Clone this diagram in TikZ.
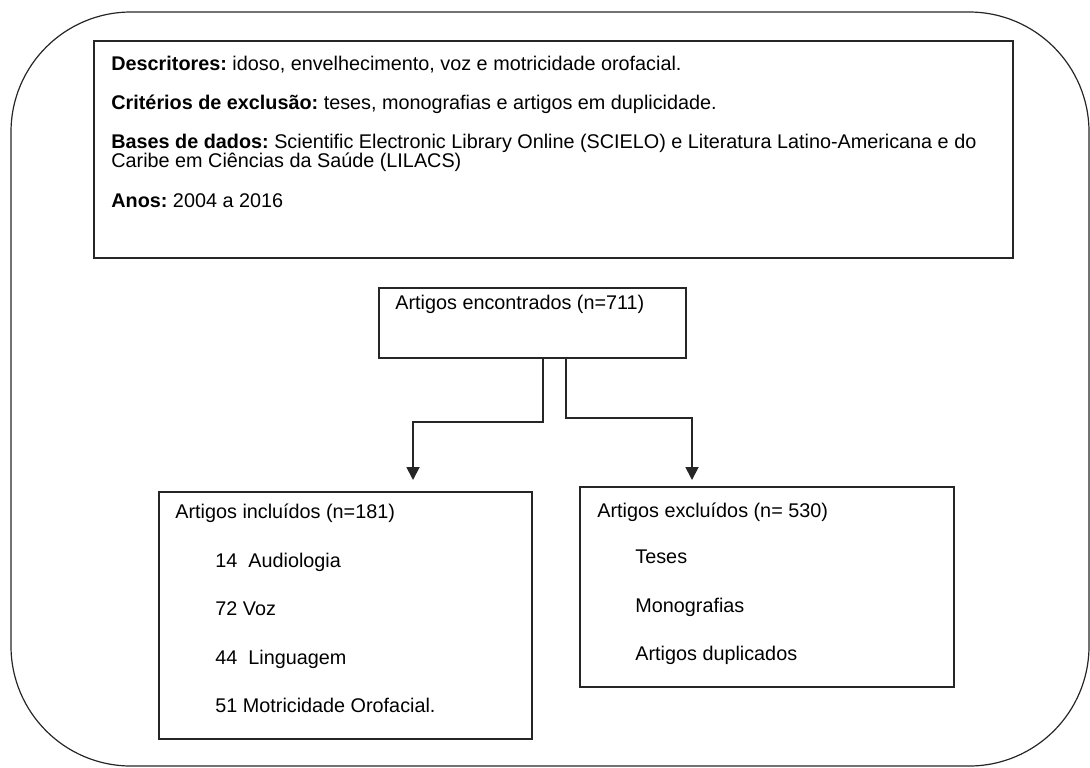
\documentclass[tikz,border=0pt]{standalone}
\usepackage{fontspec}
\setmainfont{Liberation Sans}
\usetikzlibrary{
  arrows.meta
}
\frenchspacing

\begin{document}
\begin{tikzpicture}[x=0.5pt,y=-0.5pt]
  \tikzset{
    frame/.style = {draw=black!85, line width=0.6pt},
    box/.style = {draw=black!85, line width=0.8pt, anchor=north west,
      inner sep=0pt},
    txt/.style = {anchor=base west, inner sep=0pt,
      font=\fontsize{9.9pt}{9.5pt}\selectfont},
    flow/.style = {draw=black!85, line width=0.9pt,
      -{Triangle[width=6.5pt,length=6.5pt]}},
  }
  \useasboundingbox (0,0) rectangle (1090,767);

  % outer frame with big round corners
  \draw[frame, rounded corners=60pt] (11,12) rectangle (1089,766);

  % search description
  \node[box, minimum width=459.5pt, minimum height=108.5pt] (desc) at (93,40) {};
  \node[txt] (descA) at (111,70)
  {\textbf{Descritores:} idoso, envelhecimento, voz e motricidade orofacial.};
  \node[txt] (descB) at (111,109)
  {\textbf{Critérios de exclusão:} teses, monografias e artigos em duplicidade.};
  \node[txt] (descC) at (111,148)
  {\textbf{Bases de dados:} Scientific Electronic Library Online (SCIELO) e Literatura Latino-Americana e do};
  \node[txt] (descC2) at (111,167) {Caribe em Ciências da Saúde (LILACS)};
  \node[txt] (descD) at (111,207) {\textbf{Anos:} 2004 a 2016};

  % found articles
  \node[box, minimum width=153.5pt, minimum height=35pt] (found) at (378,287) {};
  \node[txt] (foundT) at (395,309) {Artigos encontrados (n=711)};

  % included / excluded
  \node[box, minimum width=186.5pt, minimum height=123.5pt] (incl) at (158,491) {};
  \node[box, minimum width=187pt, minimum height=100pt] (excl) at (579,486) {};

  \node[txt] (inclT) at (175,518) {Artigos incluídos (n=181)};
  \foreach \y/\t [count=\i] in {567/14\ \ Audiologia,615/72 Voz,664/44\ \ Linguagem,712/51 Motricidade Orofacial.}
  \node[txt] (incl-\i) at (215,\y) {\t};

  \node[txt] (exclT) at (597,517) {Artigos excluídos (n= 530)};
  \foreach \y/\t [count=\i] in {563/Teses,612/Monografias,660/Artigos duplicados}
  \node[txt] (excl-\i) at (635,\y) {\t};

  % arrow ends above the two boxes
  \coordinate (inclTip) at (413,480);
  \coordinate (exclTip) at (692,480);

  \draw[flow] ([xshift=5.25pt]found.south) -- ++(0,63) -| (inclTip);
  \draw[flow] ([xshift=16.75pt]found.south) -- ++(0,59) -| (exclTip);
\end{tikzpicture}
\end{document}
